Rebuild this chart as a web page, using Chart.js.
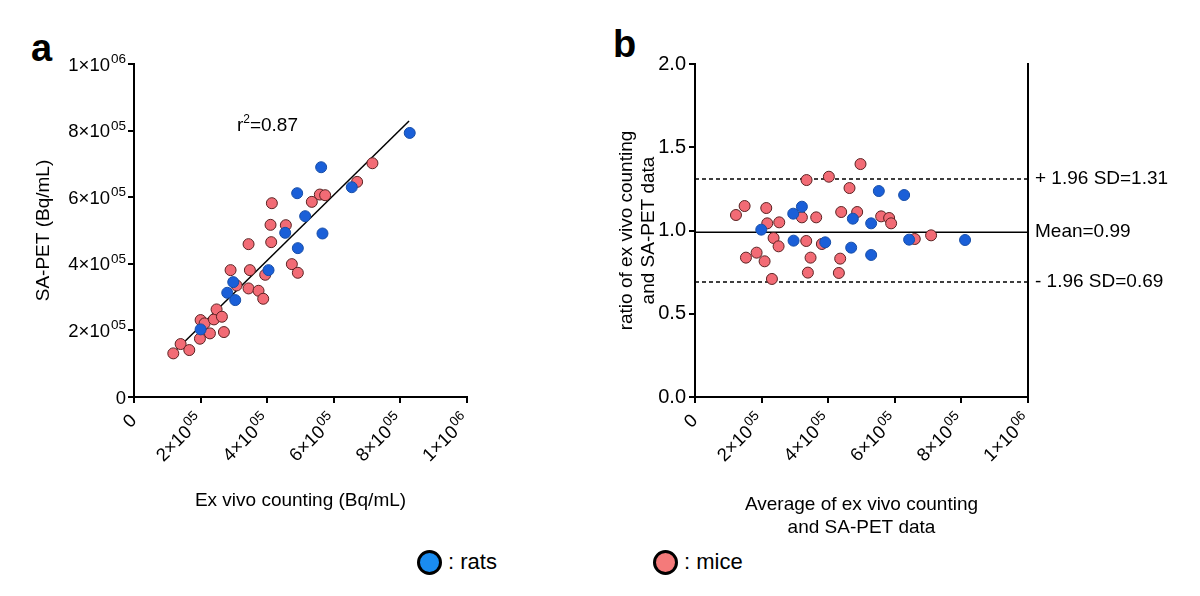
<!DOCTYPE html>
<html>
<head>
<meta charset="utf-8">
<script src="https://cdn.jsdelivr.net/npm/chart.js@4.4.1/dist/chart.umd.min.js"></script>
<style>
  html, body { margin: 0; padding: 0; background: #fff; }
  body { width: 1200px; height: 596px; position: relative; overflow: hidden; font-family: "Liberation Sans", Arial, sans-serif; }
  canvas { position: absolute; top: 0; }
  #chartA { left: 0; }
  #chartB { left: 560px; }
  .panel { position: absolute; font-weight: bold; font-size: 38px; line-height: 1; }
  .legend { position: absolute; top: 549px; display: flex; align-items: center; font-size: 22px; }
  .dot { width: 19px; height: 19px; border: 3px solid #000; border-radius: 50%; margin-right: 6px; }
</style>
</head>
<body>
<div class="panel" style="left:31px; top:29px;">a</div>
<div class="panel" style="left:613px; top:25px;">b</div>
<canvas id="chartA" width="600" height="540"></canvas>
<canvas id="chartB" width="640" height="540"></canvas>
<div class="legend" style="left:417px;"><div class="dot" style="background:#1a8cf0"></div>: rats</div>
<div class="legend" style="left:653px;"><div class="dot" style="background:#f47a7a"></div>: mice</div>

<script>
// ===== DATA =====
// panel a: ex vivo counting (x) vs SA-PET (y), Bq/mL
const ratsX = [200000, 280000, 298000, 304000, 404000, 454000, 490000, 492000, 514000, 562000, 566000, 654000, 828000];
const ratsY = [203000, 313000, 345000, 291000, 381000, 493000, 612000, 447000, 543000, 690000, 491000, 630000, 793000];
const miceX = [118000, 140000, 166000, 198000, 200000, 212000, 228000, 240000, 248000, 264000, 270000, 290000, 308000, 344000, 348000,
               344000, 374000, 388000, 394000, 414000, 410000, 412000, 456000, 474000, 492000, 534000, 558000, 574000, 670000, 716000];
const miceY = [131000, 159000, 141000, 175000, 231000, 221000, 191000, 233000, 263000, 241000, 195000, 381000, 335000, 459000, 381000,
               326000, 319000, 295000, 367000, 582000, 517000, 465000, 516000, 399000, 373000, 586000, 608000, 606000, 646000, 702000];
const regX = [118000, 826000];
const regY = [133000, 829000];
const r2Pos = [309000, 800000];

// panel b: Bland-Altman, average (x) vs ratio (y)
const ratsAvg = [199000, 295000, 296000, 321000, 391000, 469000, 474000, 529000, 529000, 552000, 628000, 643000, 811000];
const ratsRatio = [1.005, 1.101, 0.939, 1.143, 0.929, 0.897, 1.071, 1.043, 0.853, 1.237, 1.213, 0.945, 0.943];
const miceAvg = [123000, 149000, 153000, 185000, 209000, 214000, 217000, 231000, 236000, 251000, 253000, 321000, 334000, 335000, 339000,
                 347000, 364000, 381000, 402000, 432000, 436000, 439000, 464000, 487000, 497000, 559000, 583000, 589000, 660000, 709000];
const miceRatio = [1.093, 1.147, 0.837, 0.867, 0.815, 1.135, 1.043, 0.709, 0.955, 0.905, 1.049, 1.079, 0.937, 1.303, 0.747,
                   0.837, 1.079, 0.919, 1.323, 0.745, 0.831, 1.111, 1.255, 1.111, 1.399, 1.085, 1.075, 1.043, 0.949, 0.971];
const baLevels = [1.31, 0.99, 0.69];
const baLabels = ["+ 1.96 SD=1.31", "Mean=0.99", "- 1.96 SD=0.69"];
const xRange = [0, 1000000];

// ===== STYLE =====
const FONT = '"Liberation Sans", Arial, sans-serif';
const RAT = { bg: "#1a5fd8", border: "#174ea8" };
const MOUSE = { bg: "#f26b75", border: "#5a2222" };
Chart.defaults.font.family = FONT;
Chart.defaults.color = "#000";

const zip = (xs, ys) => xs.map((x, i) => ({ x, y: ys[i] }));
// split a value into "2×10" + "05" for superscript drawing
function sciParts(v) {
  if (v === 0) return ["0", ""];
  const e = Math.floor(Math.log10(v) + 1e-9);
  const m = Math.round(v / Math.pow(10, e));
  return [m + "\u00d710", String(e).padStart(2, "0")];
}

function scatterSet(data, c) {
  return { type: "scatter", data, backgroundColor: c.bg, borderColor: c.border, borderWidth: 1, pointRadius: 5.5, pointHoverRadius: 5.5, order: 1 };
}
function lineSet(data, dash) {
  return { type: "line", data, borderColor: "#000", borderWidth: 1.5, borderDash: dash, pointRadius: 0, fill: false, order: 2 };
}
const axisBase = {
  type: "linear",
  border: { display: true, color: "#000", width: 2 },
  grid: { display: true, drawOnChartArea: false, drawTicks: true, tickLength: 6, color: "#000", lineWidth: 2 },
};
// labels are drawn by sciTicks below, so the library ones stay invisible
const hiddenSci = { stepSize: 200000, font: { size: 18 }, color: "rgba(0,0,0,0)", callback: v => sciParts(v).join("") };

// ===== SCI TICK LABELS (2×10^05) =====
function drawSci(ctx, v, rightX, midY) {
  const [base, sup] = sciParts(v);
  ctx.font = "18.5px " + FONT;
  const wb = ctx.measureText(base).width;
  ctx.font = "13.5px " + FONT;
  const ws = sup ? ctx.measureText(sup).width + 1 : 0;
  const x0 = rightX - wb - ws;
  ctx.font = "18.5px " + FONT;
  ctx.fillText(base, x0, midY + 6.5);
  ctx.font = "13.5px " + FONT;
  ctx.fillText(sup, x0 + wb + 1, midY - 1);
}
function sciTicks(axes) {
  return {
    id: "sciTicks",
    afterDraw(chart) {
      const { ctx } = chart;
      ctx.save();
      ctx.fillStyle = "#000";
      ctx.textAlign = "left";
      ctx.textBaseline = "alphabetic";
      axes.forEach(id => {
        const s = chart.scales[id];
        s.ticks.forEach(t => {
          if (s.isHorizontal()) {
            const px = s.getPixelForValue(t.value);
            ctx.save();
            ctx.translate(px - 1, s.top + 20);
            ctx.rotate(-Math.PI / 4);
            drawSci(ctx, t.value, 0, 0);
            ctx.restore();
          } else {
            drawSci(ctx, t.value, s.right - 8, s.getPixelForValue(t.value));
          }
        });
      });
      ctx.restore();
    }
  };
}

// ===== R2 LABEL =====
const r2Label = {
  id: "r2Label",
  afterDraw(chart) {
    const { ctx, scales: { x, y } } = chart;
    const px = x.getPixelForValue(r2Pos[0]), py = y.getPixelForValue(r2Pos[1]);
    ctx.save();
    ctx.fillStyle = "#000";
    ctx.textBaseline = "alphabetic";
    ctx.font = "19px " + FONT;
    ctx.fillText("r", px, py);
    let w = ctx.measureText("r").width;
    ctx.font = "12px " + FONT;
    ctx.fillText("2", px + w, py - 8);
    w += ctx.measureText("2").width;
    ctx.font = "19px " + FONT;
    ctx.fillText("=0.87", px + w, py);
    ctx.restore();
  }
};

// ===== PANEL A =====
new Chart(document.getElementById("chartA"), {
  type: "scatter",
  data: {
    datasets: [
      scatterSet(zip(ratsX, ratsY), RAT),
      scatterSet(zip(miceX, miceY), MOUSE),
      lineSet(zip(regX, regY), []),
    ]
  },
  options: {
    responsive: false, animation: false,
    layout: { padding: { top: 64, left: 0, right: 133, bottom: 0 } },
    plugins: { legend: { display: false }, tooltip: { enabled: false } },
    scales: {
      x: { ...axisBase, position: "bottom", min: xRange[0], max: xRange[1],
           ticks: { ...hiddenSci, minRotation: 45, maxRotation: 45 },
           title: { display: true, text: "Ex vivo counting (Bq/mL)", font: { size: 19 }, padding: { bottom: 28 } },
           afterFit: s => { s.height = 143; } },
      y: { ...axisBase, position: "left", min: 0, max: 1000000,
           ticks: hiddenSci,
           title: { display: true, text: "SA-PET (Bq/mL)", font: { size: 19 }, padding: { top: 32 } },
           afterFit: s => { s.width = 134; } },
    }
  },
  plugins: [r2Label, sciTicks(["x", "y"])]
});

// ===== PANEL B =====
new Chart(document.getElementById("chartB"), {
  type: "scatter",
  data: {
    datasets: [
      scatterSet(zip(ratsAvg, ratsRatio), RAT),
      scatterSet(zip(miceAvg, miceRatio), MOUSE),
      lineSet(zip(xRange, [baLevels[0], baLevels[0]]), [4, 3]),
      lineSet(zip(xRange, [baLevels[1], baLevels[1]]), []),
      lineSet(zip(xRange, [baLevels[2], baLevels[2]]), [4, 3]),
    ]
  },
  options: {
    responsive: false, animation: false,
    layout: { padding: { top: 64, left: 0, right: 0, bottom: 0 } },
    plugins: { legend: { display: false }, tooltip: { enabled: false } },
    scales: {
      x: { ...axisBase, position: "bottom", min: xRange[0], max: xRange[1],
           ticks: { ...hiddenSci, minRotation: 45, maxRotation: 45 },
           title: { display: true, text: ["Average of ex vivo counting", "and SA-PET data"], font: { size: 19, lineHeight: 1.25 }, padding: { bottom: 0 } },
           afterFit: s => { s.height = 143; } },
      y: { ...axisBase, position: "left", min: 0, max: 2,
           ticks: { stepSize: 0.5, font: { size: 20 }, padding: 3, callback: v => v.toFixed(1) },
           title: { display: true, text: ["ratio of ex vivo counting", "and SA-PET data"], font: { size: 19, lineHeight: 1.2 }, padding: { top: 55 } },
           afterFit: s => { s.width = 135; } },
      y2: { type: "linear", position: "right", min: 0, max: 2,
            border: { display: true, color: "#000", width: 2 },
            grid: { display: false, drawTicks: false },
            afterBuildTicks: s => { s.ticks = baLevels.map(v => ({ value: v })); },
            ticks: { font: { size: 19 }, padding: 7, callback: (v, i) => baLabels[i] },
            afterFit: s => { s.width = 172; } },
    }
  },
  plugins: [sciTicks(["x"])]
});
</script>
</body>
</html>
